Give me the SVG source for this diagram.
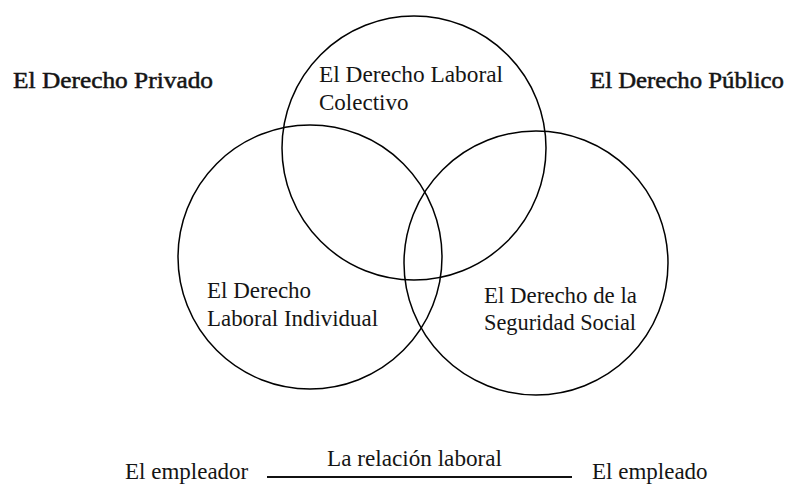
<svg xmlns="http://www.w3.org/2000/svg" width="792" height="486" viewBox="0 0 792 486">
<style>
  .c { fill: none; stroke: #000; stroke-width: 1.5; }
  .t { font-family: 'Liberation Serif', 'Times New Roman', 'DejaVu Serif', serif; font-size: 23px; fill: #151515; }
  .h { stroke: #151515; stroke-width: 0.5; }
  .ln { stroke: #111; stroke-width: 2; }
</style>
<rect width="792" height="486" fill="#fff"/>
<g id="privado"><text class="t h" x="13" y="88" textLength="200" lengthAdjust="spacingAndGlyphs">El Derecho Privado</text></g>
<g id="publico"><text class="t h" x="590" y="88" textLength="194" lengthAdjust="spacingAndGlyphs">El Derecho Público</text></g>
<g id="colectivo">
  <circle class="c" cx="414" cy="148" r="132"/>
  <text class="t" x="319" y="82" textLength="184" lengthAdjust="spacingAndGlyphs">El Derecho Laboral</text>
  <text class="t" x="319" y="110">Colectivo</text>
</g>
<g id="individual">
  <circle class="c" cx="310" cy="257" r="132"/>
  <text class="t" x="207" y="298">El Derecho</text>
  <text class="t" x="207" y="326" textLength="171" lengthAdjust="spacingAndGlyphs">Laboral Individual</text>
</g>
<g id="seguridad">
  <circle class="c" cx="536" cy="263" r="132"/>
  <text class="t" x="484" y="303" textLength="153" lengthAdjust="spacingAndGlyphs">El Derecho de la</text>
  <text class="t" x="484" y="330" textLength="152" lengthAdjust="spacingAndGlyphs">Seguridad Social</text>
</g>
<g id="empleador"><text class="t" x="125" y="479">El empleador</text></g>
<g id="empleado"><text class="t" x="592" y="479">El empleado</text></g>
<g id="connectors">
  <line class="ln" x1="267" y1="477" x2="572" y2="477"/>
  <text class="t" x="327" y="466" textLength="175" lengthAdjust="spacingAndGlyphs">La relación laboral</text>
</g>
</svg>
